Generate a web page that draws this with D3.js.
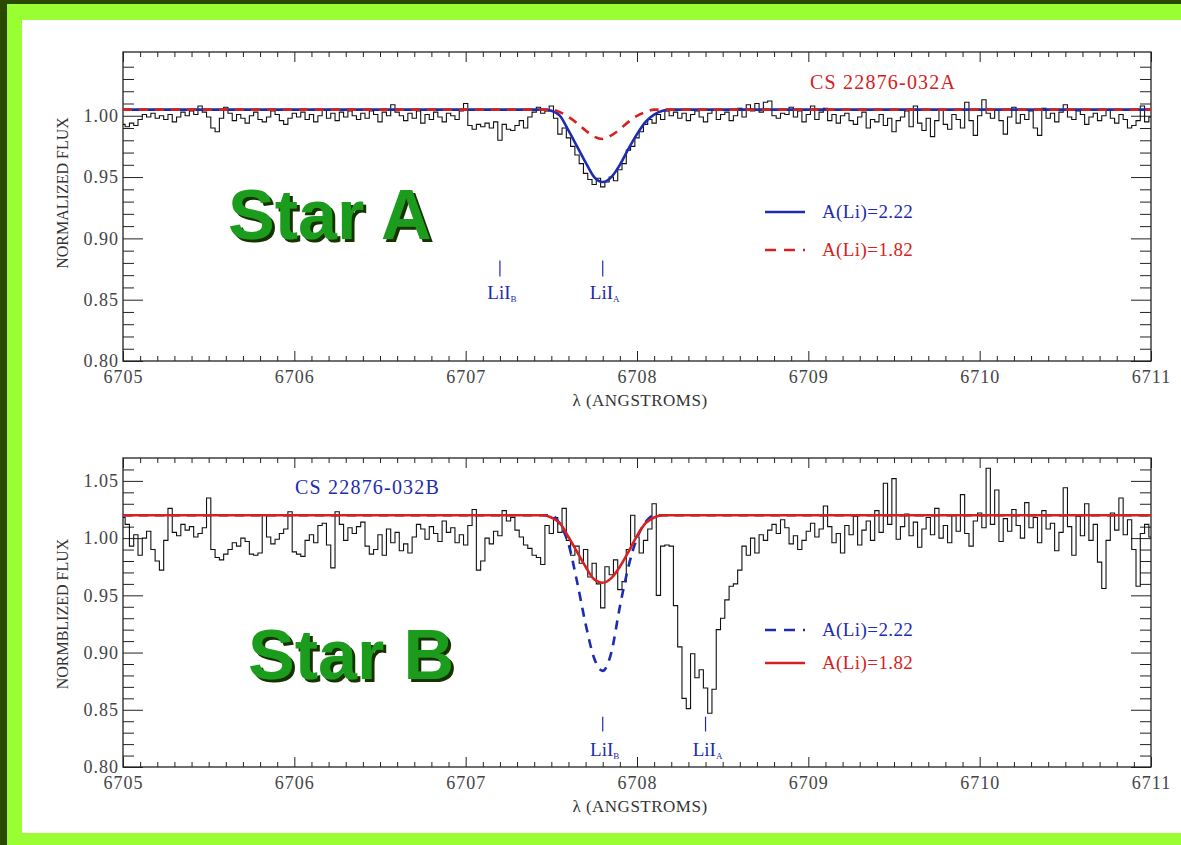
<!DOCTYPE html>
<html>
<head>
<meta charset="utf-8">
<script src="https://cdn.jsdelivr.net/npm/d3@7"></script>
<style>
  body { margin: 0; background: #fff; }
  svg { display: block; }
</style>
</head>
<body>
<svg id="chart" width="1181" height="845"></svg>
<script>
// ---- data ----
// observed spectra, one flux value per 0.025 A starting at 6705.000
const lambdaStart = 6705;
const lambdaStep = 0.025;

const fluxA = [
  0.993, 0.991, 0.994, 0.992, 0.997, 1.001, 0.999, 1.002, 0.998,
  1.000, 0.997, 1.001, 0.995, 0.999, 1.003, 1.000, 1.004, 1.001,
  1.008, 1.003, 0.999, 0.990, 0.987, 0.998, 1.007, 1.002,
  0.996, 1.001, 0.998, 0.994, 1.000, 1.003, 0.997, 0.995, 0.999, 1.004, 1.001, 0.996, 0.993, 0.998, 1.002,
  0.999, 1.003, 0.997, 1.001, 0.995, 1.000, 1.005, 0.998, 1.002, 0.996,
  1.003, 0.999, 1.004, 1.000, 0.997, 1.002, 0.998, 1.004, 1.001, 0.995, 1.003, 1.000, 1.009,
  1.003, 1.000, 0.996, 1.002, 0.998, 1.004, 0.994, 1.001, 0.997, 1.003,
  0.999, 0.995, 1.002, 1.000, 0.997, 1.004, 1.010,
  0.992, 0.989, 0.993, 0.991, 0.994, 0.990, 0.995, 0.980, 0.993, 0.989,
  0.988, 0.992, 0.996, 0.990, 0.999, 1.003, 1.007, 1.002, 1.004, 1.008,
  0.998, 0.985, 0.990, 0.982, 0.975, 0.968, 0.961, 0.953, 0.948, 0.944,
  0.949, 0.942, 0.946, 0.950, 0.947, 0.956, 0.961, 0.972, 0.975, 0.982,
  0.987, 0.993, 0.997, 0.994, 1.001, 0.997,
  1.004, 1.000, 1.003, 0.998, 1.002, 0.996, 1.001, 1.004, 0.999, 0.995,
  1.002, 1.005, 0.997, 1.001, 1.003, 0.996, 1.000, 1.006, 0.999, 1.009,
  1.004, 1.010, 1.003, 1.011,
  1.012, 1.000, 0.998, 1.002, 1.001, 1.007, 0.999, 1.004, 0.995, 1.001,
  1.008, 0.997, 1.003, 1.006, 0.996, 1.001, 0.994, 1.000,
  1.002, 0.996, 0.993, 0.999, 1.003, 0.990, 0.997, 0.995, 1.001, 0.992,
  0.998, 0.987, 0.996, 0.999, 1.004, 0.991, 1.008, 0.994, 0.988, 0.998,
  0.983, 0.996, 1.005, 0.993, 0.989, 1.001, 0.997, 0.990, 1.011, 0.996,
  0.984, 1.000,
  1.013, 1.002, 0.998, 1.005, 0.996, 0.985, 0.999, 1.007, 0.994, 1.001,
  0.997, 1.004, 0.990, 0.984, 1.006, 0.998, 1.002, 0.995, 1.003, 1.009,
  0.999, 0.997, 1.004, 1.001, 0.993, 0.999, 1.002, 0.996, 1.000, 1.005,
  0.998, 0.994, 1.001, 0.997, 0.990, 0.992, 0.996, 1.008, 0.995, 0.999
];

const fluxB = [
  1.018, 1.012, 0.993, 1.003, 0.985, 1.000, 1.006, 0.990, 0.980, 0.972,
  0.998, 1.026, 1.005, 1.002, 1.012, 1.007, 1.010, 1.001, 1.004, 1.009,
  1.035, 0.990, 0.983, 0.981, 0.986, 0.990, 0.996, 0.993, 1.000, 0.997,
  0.986, 0.985, 0.987, 1.020, 1.001, 0.995, 0.999, 1.004, 1.008, 1.023,
  0.988, 0.986, 0.984, 0.998, 1.003, 0.996, 1.011, 1.013, 0.994, 0.974,
  1.023, 1.012, 0.998, 1.009, 1.004, 1.010, 1.014, 0.993, 0.986, 0.990,
  1.003, 0.985, 1.008, 0.996, 1.005, 0.989, 0.995, 0.987, 1.001, 1.012,
  1.008, 0.999, 1.010, 1.004, 0.997, 1.015, 1.005, 1.009, 0.996, 1.003,
  0.994, 1.011, 1.025, 0.972, 0.980, 1.000, 0.995, 1.006, 1.002, 1.024,
  1.015, 1.018, 1.007, 1.001, 0.994, 0.991, 0.985, 0.983, 0.977, 1.011,
  1.004, 1.018, 1.005, 1.026, 0.998, 0.985, 0.993, 0.978, 0.990, 0.966,
  0.978, 0.960, 0.939, 0.975, 0.968, 0.981, 0.955, 0.962, 0.990, 1.020,
  1.001, 0.987, 0.998, 1.008, 1.030, 0.950, 0.993, 0.994, 0.993, 0.941,
  0.905, 0.860, 0.851, 0.899, 0.878, 0.885, 0.869, 0.847, 0.868, 0.920,
  0.930, 0.946, 0.958, 0.960, 0.972, 0.993, 0.985, 1.000, 0.987, 1.003,
  0.998, 1.007,
  1.012, 1.004, 1.016, 1.009, 0.995, 1.002, 0.990, 0.998, 1.006, 1.013,
  1.001, 1.008, 1.028, 1.010, 0.996, 1.004, 0.987, 1.011, 1.003, 1.019,
  0.994, 1.007, 1.015, 0.998, 1.024, 1.005, 1.048, 1.012, 1.052, 0.999,
  1.010, 1.021, 1.002, 1.014, 0.992, 1.008, 1.018, 1.003, 1.026, 1.000,
  1.011, 0.996, 1.020, 1.006, 1.038, 1.004, 0.993, 1.015, 1.022, 1.009,
  1.061, 1.012, 1.042, 0.997, 1.017, 1.006, 1.025, 1.011, 1.000, 1.031,
  1.009, 1.018, 0.996, 1.024, 1.008, 1.013, 0.989, 1.005, 1.044, 1.010,
  0.985, 1.019, 1.002, 1.030, 0.998, 1.012, 0.979, 0.956, 0.998, 1.022,
  1.007, 1.035, 1.003, 1.016, 0.990, 0.958, 1.004, 1.012, 1.001
];

// synthetic spectra, sampled on one wavelength list
const fitLambda = [6705, 6707.45, 6707.5, 6707.55, 6707.6, 6707.65, 6707.7, 6707.75, 6707.8,
                   6707.85, 6707.9, 6707.95, 6708.0, 6708.05, 6708.1, 6708.15, 6708.2, 6711];
const fitA222 = [1.005, 1.005, 1.004, 1.000, 0.988, 0.975, 0.962, 0.950, 0.946,
                 0.950, 0.960, 0.973, 0.985, 0.995, 1.001, 1.004, 1.005, 1.005];
const fitA182 = [1.005, 1.005, 1.005, 1.003, 0.999, 0.994, 0.988, 0.983, 0.981,
                 0.984, 0.989, 0.995, 1.000, 1.003, 1.005, 1.005, 1.005, 1.005];
const fitB222 = [1.020, 1.020, 1.020, 1.012, 0.995, 0.962, 0.925, 0.895, 0.884,
                 0.900, 0.940, 0.975, 1.000, 1.014, 1.020, 1.020, 1.020, 1.020];
const fitB182 = [1.020, 1.020, 1.018, 1.013, 1.001, 0.988, 0.975, 0.964, 0.961,
                 0.965, 0.975, 0.988, 1.002, 1.013, 1.018, 1.020, 1.020, 1.020];

// Li I line marks
const linesA = [["B", 6707.2], ["A", 6707.8]];
const linesB = [["B", 6707.8], ["A", 6708.4]];

const xTicks = [6705, 6706, 6707, 6708, 6709, 6710, 6711];
const yTicksA = [0.80, 0.85, 0.90, 0.95, 1.00];
const yTicksB = [0.80, 0.85, 0.90, 0.95, 1.00, 1.05];

// ---- drawing ----
const W = 1181, H = 845;
const BLUE = "#1c2cb0", RED = "#d92020", SERIF = "'Liberation Serif', 'DejaVu Serif', serif";
const svg = d3.select("#chart");

// drop shadow for the big green labels
const shadow = svg.append("defs").append("filter").attr("id", "shadow")
  .attr("x", "-5%").attr("y", "-5%").attr("width", "115%").attr("height", "120%");
shadow.append("feDropShadow").attr("dx", 3).attr("dy", 3).attr("stdDeviation", 0.4)
  .attr("flood-color", "#173300").attr("flood-opacity", 1);

// green frame
svg.append("rect").attr("width", W).attr("height", H).attr("fill", "#99ff33");
svg.append("rect").attr("width", W).attr("height", 4).attr("fill", "#2b4a00");
svg.append("rect").attr("width", 7).attr("height", H).attr("fill", "#2b4a00");
svg.append("rect").attr("x", 22).attr("y", 20).attr("width", W - 22).attr("height", 813).attr("fill", "#fff");

function drawPanel(p) {
  const left = 123, right = 1151;
  const x = d3.scaleLinear().domain([6705, 6711]).range([left, right]);
  const y = d3.scaleLinear().domain(p.yDomain).range([p.bottom, p.top]);
  const g = svg.append("g");

  const clipId = "clip" + p.id;
  g.append("clipPath").attr("id", clipId)
    .append("rect").attr("x", left).attr("y", p.top)
    .attr("width", right - left).attr("height", p.bottom - p.top);

  const xMinor = d3.range(6705, 6711.001, 0.1).filter(v => Math.abs(v - Math.round(v)) > 0.01);
  const yMinor = d3.range(p.yDomain[0], p.yDomain[1], 0.01)
    .filter(v => Math.abs(v * 20 - Math.round(v * 20)) > 0.01);

  const tickStyle = a => a.call(s => s.select(".domain").remove())
    .call(s => s.selectAll("line").attr("stroke", "#222"))
    .call(s => s.selectAll("text").attr("fill", "#444").style("font-family", SERIF)
      .style("font-size", "18px").style("letter-spacing", "1px"));

  // x axes (bottom with labels, top without)
  g.append("g").attr("transform", `translate(0,${p.bottom})`)
    .call(d3.axisBottom(x).tickValues(xTicks).tickFormat(d3.format("d")).tickSizeInner(-10).tickSizeOuter(0).tickPadding(9))
    .call(tickStyle);
  g.append("g").attr("transform", `translate(0,${p.bottom})`)
    .call(d3.axisBottom(x).tickValues(xMinor).tickFormat("").tickSize(-5)).call(tickStyle);
  g.append("g").attr("transform", `translate(0,${p.top})`)
    .call(d3.axisTop(x).tickValues(xTicks).tickFormat("").tickSize(-10)).call(tickStyle);
  g.append("g").attr("transform", `translate(0,${p.top})`)
    .call(d3.axisTop(x).tickValues(xMinor).tickFormat("").tickSize(-5)).call(tickStyle);

  // y axes (left with labels, right without)
  g.append("g").attr("transform", `translate(${left},0)`)
    .call(d3.axisLeft(y).tickValues(p.yTicks).tickFormat(d3.format(".2f")).tickSizeInner(-20).tickSizeOuter(0).tickPadding(4))
    .call(tickStyle);
  g.append("g").attr("transform", `translate(${left},0)`)
    .call(d3.axisLeft(y).tickValues(yMinor).tickFormat("").tickSize(-11)).call(tickStyle);
  g.append("g").attr("transform", `translate(${right},0)`)
    .call(d3.axisRight(y).tickValues(p.yTicks).tickFormat("").tickSize(-20)).call(tickStyle);
  g.append("g").attr("transform", `translate(${right},0)`)
    .call(d3.axisRight(y).tickValues(yMinor).tickFormat("").tickSize(-11)).call(tickStyle);

  g.append("rect").attr("x", left).attr("y", p.top)
    .attr("width", right - left).attr("height", p.bottom - p.top)
    .attr("fill", "none").attr("stroke", "#222").attr("stroke-width", 1.3);

  // axis titles
  g.append("text").attr("x", 640).attr("y", p.bottom + 45)
    .attr("text-anchor", "middle").attr("fill", "#333")
    .style("font-family", SERIF).style("font-size", "17px").style("letter-spacing", "0.5px")
    .text("λ (ANGSTROMS)");
  g.append("text").attr("transform", `translate(68,${p.yTitleY}) rotate(-90)`)
    .attr("text-anchor", "middle").attr("fill", "#333")
    .style("font-family", SERIF).style("font-size", "16px")
    .text(p.yTitle);

  // spectrum
  const plot = g.append("g").attr("clip-path", `url(#${clipId})`);
  const spec = p.flux.map((f, i) => [lambdaStart + i * lambdaStep, f]);
  plot.append("path").datum(spec)
    .attr("fill", "none").attr("stroke", "#111").attr("stroke-width", 1.1)
    .attr("d", d3.line().x(d => x(d[0])).y(d => y(d[1])).curve(d3.curveStep));

  const fitLine = d3.line().x(d => x(d[0])).y(d => y(d[1])).curve(d3.curveMonotoneX);
  p.fits.forEach(f => {
    plot.append("path").datum(fitLambda.map((l, i) => [l, f.values[i]]))
      .attr("fill", "none").attr("stroke", f.color).attr("stroke-width", 2.6)
      .attr("stroke-dasharray", f.dash ? "9,7" : null)
      .attr("d", fitLine);
  });

  // Li I marks
  p.lines.forEach(([sub, lam]) => {
    g.append("line").attr("x1", x(lam)).attr("x2", x(lam))
      .attr("y1", y(p.markTop)).attr("y2", y(p.markTop - 0.013))
      .attr("stroke", BLUE).attr("stroke-width", 1.2);
    const t = g.append("text").attr("x", x(lam) + 2).attr("y", y(p.markTop) + 39)
      .attr("text-anchor", "middle").attr("fill", BLUE)
      .style("font-family", SERIF).style("font-size", "19px");
    t.append("tspan").text("LiI");
    t.append("tspan").attr("dy", 3).style("font-size", "9px").text(sub);
  });

  // star name
  g.append("text").attr("x", p.nameX).attr("y", p.nameY)
    .attr("fill", p.nameColor).style("font-family", SERIF)
    .style("font-size", "20px").style("letter-spacing", "1.2px")
    .text(p.name);

  // legend
  p.fits.forEach((f, i) => {
    const ly = p.legendY + i * p.legendGap;
    g.append("line").attr("x1", 765).attr("x2", 805).attr("y1", ly).attr("y2", ly)
      .attr("stroke", f.color).attr("stroke-width", 2.6)
      .attr("stroke-dasharray", f.dash ? "11,8" : null);
    g.append("text").attr("x", 822).attr("y", ly + 6).attr("fill", f.color)
      .style("font-family", SERIF).style("font-size", "19px").style("letter-spacing", "0.4px")
      .text(f.label);
  });

  // big "Star" label with a dark drop shadow
  g.append("text").attr("x", p.starX).attr("y", p.starY)
    .attr("fill", "#1c9c1c").attr("filter", "url(#shadow)")
    .style("font-family", "'Liberation Sans', Arial, sans-serif")
    .style("font-weight", "bold").style("font-size", "70px")
    .text(p.star);
}

drawPanel({
  id: "A", top: 52, bottom: 361, yDomain: [0.80, 1.052], yTicks: yTicksA,
  flux: fluxA, yTitle: "NORMALIZED FLUX", yTitleY: 193,
  fits: [
    { values: fitA222, color: BLUE, dash: false, label: "A(Li)=2.22" },
    { values: fitA182, color: RED, dash: true, label: "A(Li)=1.82" }
  ],
  lines: linesA, markTop: 0.882,
  name: "CS 22876-032A", nameColor: RED, nameX: 810, nameY: 89,
  legendY: 212, legendGap: 38,
  star: "Star A", starX: 228, starY: 239
});

drawPanel({
  id: "B", top: 458, bottom: 767, yDomain: [0.80, 1.07], yTicks: yTicksB,
  flux: fluxB, yTitle: "NORMBLIZED FLUX", yTitleY: 614,
  fits: [
    { values: fitB222, color: BLUE, dash: true, label: "A(Li)=2.22" },
    { values: fitB182, color: RED, dash: false, label: "A(Li)=1.82" }
  ],
  lines: linesB, markTop: 0.844,
  name: "CS 22876-032B", nameColor: BLUE, nameX: 295, nameY: 494,
  legendY: 630, legendGap: 33,
  star: "Star B", starX: 248, starY: 679
});
</script>
</body>
</html>
